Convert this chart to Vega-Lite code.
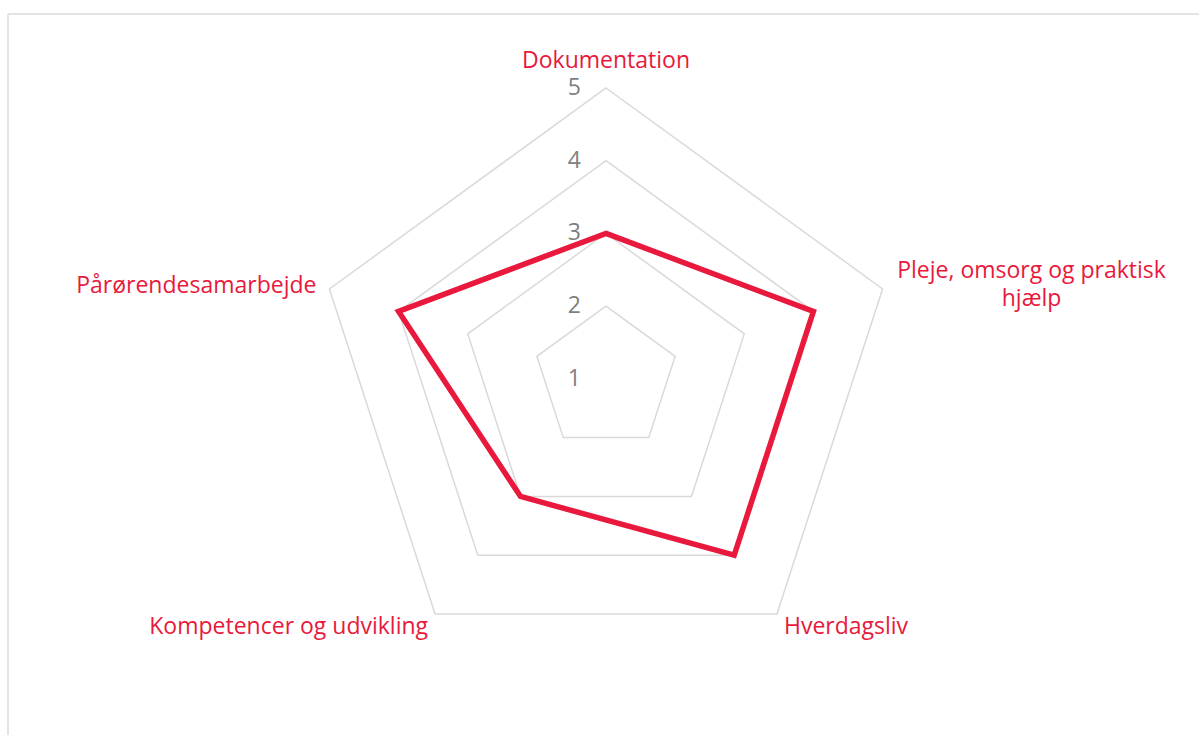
{
  "$schema": "https://vega.github.io/schema/vega-lite/v6.json",
  "width": 1191,
  "height": 721,
  "padding": {"left": 8, "top": 14, "right": 0, "bottom": 0},
  "autosize": {"type": "none"},
  "config": {
    "view": {"stroke": "#e4e4e4", "strokeWidth": 2, "strokeDash": [1191, 1912, 721, 0]},
    "font": "Open Sans"
  },
  "datasets": {
    "scores": [
      {"i": 0, "axis": "Dokumentation", "label": "Dokumentation", "value": 3},
      {"i": 1, "axis": "Pleje, omsorg og praktisk hjælp", "label": "Pleje, omsorg og praktisk\nhjælp", "value": 4},
      {"i": 2, "axis": "Hverdagsliv", "label": "Hverdagsliv", "value": 4},
      {"i": 3, "axis": "Kompetencer og udvikling", "label": "Kompetencer og udvikling", "value": 3},
      {"i": 4, "axis": "Pårørendesamarbejde", "label": "Pårørendesamarbejde", "value": 4}
    ],
    "grid": [
      {"level": 2, "i": 0}, {"level": 2, "i": 1}, {"level": 2, "i": 2}, {"level": 2, "i": 3}, {"level": 2, "i": 4},
      {"level": 3, "i": 0}, {"level": 3, "i": 1}, {"level": 3, "i": 2}, {"level": 3, "i": 3}, {"level": 3, "i": 4},
      {"level": 4, "i": 0}, {"level": 4, "i": 1}, {"level": 4, "i": 2}, {"level": 4, "i": 3}, {"level": 4, "i": 4},
      {"level": 5, "i": 0}, {"level": 5, "i": 1}, {"level": 5, "i": 2}, {"level": 5, "i": 3}, {"level": 5, "i": 4}
    ],
    "levels": [
      {"level": 1}, {"level": 2}, {"level": 3}, {"level": 4}, {"level": 5}
    ]
  },
  "encoding": {
    "x": {"field": "px", "type": "quantitative", "scale": {"domain": [-8.2256, 8.1568], "nice": false, "zero": false}, "axis": null},
    "y": {"field": "py", "type": "quantitative", "scale": {"domain": [-4.8996, 5.0179], "nice": false, "zero": false}, "axis": null}
  },
  "layer": [
    {
      "data": {"name": "grid"},
      "transform": [
        {"calculate": "datum.i * 2 * PI / 5", "as": "a"},
        {"calculate": "(datum.level - 1) * sin(datum.a)", "as": "px"},
        {"calculate": "(datum.level - 1) * cos(datum.a)", "as": "py"}
      ],
      "mark": {"type": "line", "interpolate": "linear-closed", "color": "#d9d9d9", "strokeWidth": 1.5},
      "encoding": {
        "detail": {"field": "level", "type": "nominal"},
        "order": {"field": "i", "type": "quantitative"}
      }
    },
    {
      "data": {"name": "levels"},
      "transform": [
        {"calculate": "0", "as": "px"},
        {"calculate": "datum.level - 1", "as": "py"}
      ],
      "mark": {"type": "text", "align": "right", "baseline": "middle", "dx": -25, "fontSize": 23, "color": "#7f7f7f"},
      "encoding": {"text": {"field": "level", "type": "quantitative"}}
    },
    {
      "data": {"name": "scores"},
      "transform": [
        {"calculate": "datum.i * 2 * PI / 5", "as": "a"},
        {"calculate": "(datum.value - 1) * sin(datum.a)", "as": "px"},
        {"calculate": "(datum.value - 1) * cos(datum.a)", "as": "py"}
      ],
      "mark": {"type": "line", "interpolate": "linear-closed", "color": "#E8193C", "strokeWidth": 5.5, "strokeJoin": "miter"},
      "encoding": {
        "order": {"field": "i", "type": "quantitative"}
      }
    },
    {
      "data": {"name": "scores"},
      "transform": [
        {"filter": "datum.i == 0"},
        {"calculate": "datum.i * 2 * PI / 5", "as": "a"},
        {"calculate": "4 * sin(datum.a)", "as": "px"},
        {"calculate": "4 * cos(datum.a)", "as": "py"}
      ],
      "mark": {"type": "text", "align": "center", "baseline": "middle", "dy": -27, "fontSize": 23, "color": "#E8193C"},
      "encoding": {"text": {"field": "label", "type": "nominal"}}
    },
    {
      "data": {"name": "scores"},
      "transform": [
        {"filter": "datum.i == 1"},
        {"calculate": "datum.i * 2 * PI / 5", "as": "a"},
        {"calculate": "4 * sin(datum.a)", "as": "px"},
        {"calculate": "4 * cos(datum.a)", "as": "py"}
      ],
      "mark": {"type": "text", "align": "center", "baseline": "middle", "dx": 149, "dy": -18, "lineBreak": "\n", "lineHeight": 28, "fontSize": 23, "color": "#E8193C"},
      "encoding": {"text": {"field": "label", "type": "nominal"}}
    },
    {
      "data": {"name": "scores"},
      "transform": [
        {"filter": "datum.i == 2"},
        {"calculate": "datum.i * 2 * PI / 5", "as": "a"},
        {"calculate": "4 * sin(datum.a)", "as": "px"},
        {"calculate": "4 * cos(datum.a)", "as": "py"}
      ],
      "mark": {"type": "text", "align": "left", "baseline": "middle", "dx": 7, "dy": 13, "fontSize": 23, "color": "#E8193C"},
      "encoding": {"text": {"field": "label", "type": "nominal"}}
    },
    {
      "data": {"name": "scores"},
      "transform": [
        {"filter": "datum.i == 3"},
        {"calculate": "datum.i * 2 * PI / 5", "as": "a"},
        {"calculate": "4 * sin(datum.a)", "as": "px"},
        {"calculate": "4 * cos(datum.a)", "as": "py"}
      ],
      "mark": {"type": "text", "align": "right", "baseline": "middle", "dx": -7, "dy": 13, "fontSize": 23, "color": "#E8193C"},
      "encoding": {"text": {"field": "label", "type": "nominal"}}
    },
    {
      "data": {"name": "scores"},
      "transform": [
        {"filter": "datum.i == 4"},
        {"calculate": "datum.i * 2 * PI / 5", "as": "a"},
        {"calculate": "4 * sin(datum.a)", "as": "px"},
        {"calculate": "4 * cos(datum.a)", "as": "py"}
      ],
      "mark": {"type": "text", "align": "right", "baseline": "middle", "dx": -13, "dy": -3, "fontSize": 23, "color": "#E8193C"},
      "encoding": {"text": {"field": "label", "type": "nominal"}}
    }
  ]
}
